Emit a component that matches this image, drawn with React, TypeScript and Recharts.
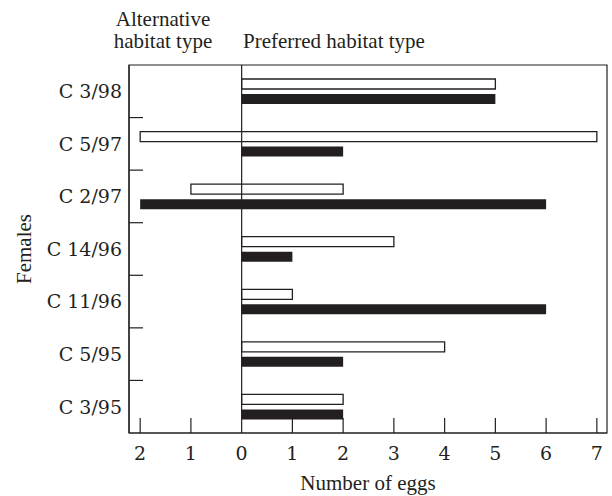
import * as React from 'react'
import {
  BarChart,
  Bar,
  XAxis,
  YAxis,
  ReferenceLine,
  ReferenceArea,
  Customized,
} from 'recharts'

// females, top to bottom
const females = ['C 3/98', 'C 5/97', 'C 2/97', 'C 14/96', 'C 11/96', 'C 5/95', 'C 3/95']
// eggs laid: negative = alternative habitat, positive = preferred habitat
const openBars: [number, number][] = [[0, 5], [-2, 7], [-1, 2], [0, 3], [0, 1], [0, 4], [0, 2]]
const filledBars: [number, number][] = [[0, 5], [0, 2], [-2, 6], [0, 1], [0, 6], [0, 2], [0, 2]]
const eggTicks = [-2, -1, 0, 1, 2, 3, 4, 5, 6, 7]
const eggDomain: [number, number] = [-2.22, 7.2]

const data = females.map((name, i) => ({ name, open: openBars[i], filled: filledBars[i] }))

const ink = '#231f20'
const textFont = '"Liberation Serif", serif'
const numFont = '"DejaVu Serif", serif'

const YTick = (props: any) => {
  const { x, y, payload, index } = props
  const half = payload && payload.offset ? payload.offset : 26.3
  return (
    <g>
      <text x={x} y={y} dy="0.36em" textAnchor="end" fill={ink} fontFamily={numFont} fontSize={19}>
        {payload.value}
      </text>
      {index < females.length - 1 && (
        <line x1={x + 7} x2={x + 21} y1={y + half} y2={y + half} stroke={ink} strokeWidth={1.2} />
      )}
    </g>
  )
}

const XTick = (props: any) => {
  const { x, y, payload } = props
  return (
    <g>
      {payload.value !== 0 && <line x1={x} x2={x} y1={y} y2={y - 15} stroke={ink} strokeWidth={1.2} />}
      <text x={x} y={y + 27} textAnchor="middle" fill={ink} fontFamily={numFont} fontSize={19}>
        {Math.abs(payload.value)}
      </text>
    </g>
  )
}

const Titles = () => (
  <g fill={ink} fontFamily={textFont} fontSize={21}>
    <text x={163} y={26} textAnchor="middle">Alternative</text>
    <text x={163} y={48} textAnchor="middle">habitat type</text>
    <text x={243} y={48}>Preferred habitat type</text>
    <text x={25} y={249} textAnchor="middle" dy="0.3em" transform="rotate(-90, 25, 249)">Females</text>
    <text x={368} y={490} textAnchor="middle">Number of eggs</text>
  </g>
)

const App = () => {
  return (
    <div style={{ position: 'absolute', left: 0, top: 0 }}>
      <BarChart
        width={612}
        height={496}
        data={data}
        layout="vertical"
        margin={{ top: 65, right: 5, bottom: 0, left: 0 }}
        barSize={10}
        barGap={5}
      >
        <XAxis
          type="number"
          domain={eggDomain}
          ticks={eggTicks}
          allowDataOverflow
          height={63}
          tickSize={0}
          tickMargin={0}
          tick={<XTick />}
          axisLine={{ stroke: ink, strokeWidth: 1.2 }}
          tickLine={false}
        />
        <YAxis
          type="category"
          dataKey="name"
          width={129}
          tickSize={0}
          tickMargin={7}
          tick={<YTick />}
          axisLine={{ stroke: ink, strokeWidth: 1.2 }}
          tickLine={false}
        />
        <ReferenceArea
          x1={eggDomain[0]}
          x2={eggDomain[1]}
          y1={females[0]}
          y2={females[females.length - 1]}
          fill="none"
          fillOpacity={0}
          stroke={ink}
          strokeWidth={1.2}
          strokeOpacity={1}
          ifOverflow="visible"
        />
        <ReferenceLine x={0} stroke={ink} strokeWidth={1.2} />
        <Bar dataKey="open" fill="#ffffff" stroke={ink} strokeWidth={1.3} isAnimationActive={false} />
        <Bar dataKey="filled" fill={ink} isAnimationActive={false} />
        <Customized component={Titles} />
      </BarChart>
    </div>
  )
}

export default App
